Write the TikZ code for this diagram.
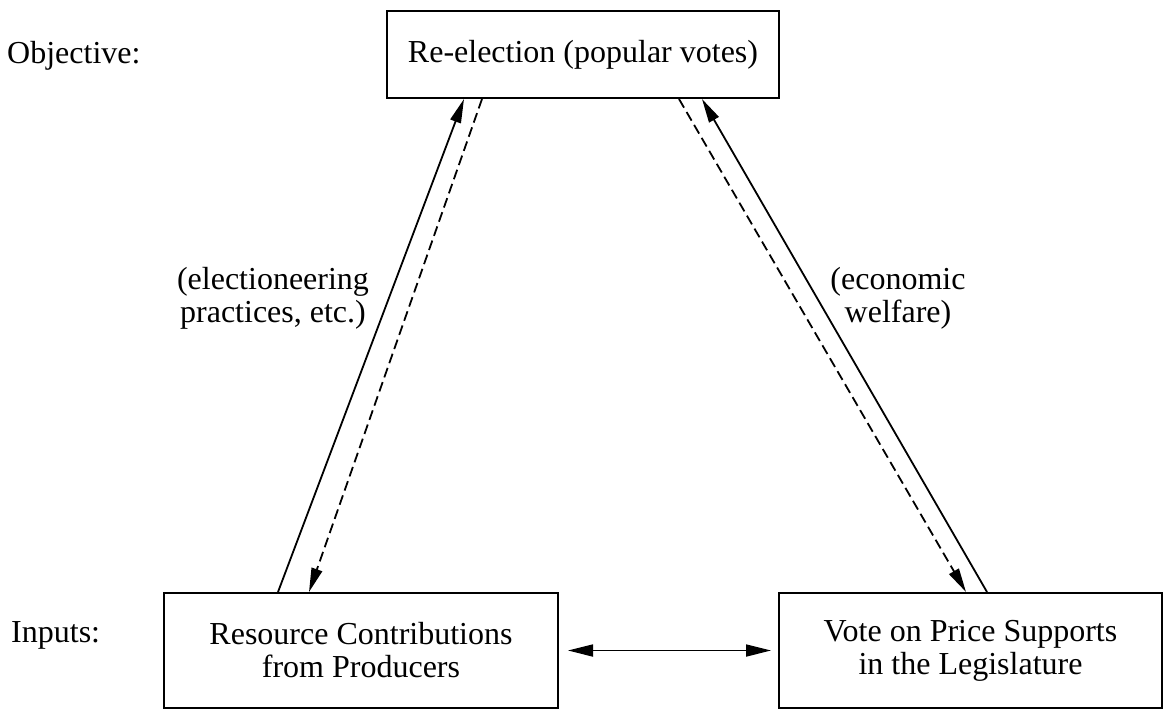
\documentclass[tikz,border=0pt]{standalone}
\usepackage{fontspec}
\setmainfont{Liberation Serif}
\newfontfamily\timesfont{Liberation Serif}
\usetikzlibrary{arrows.meta,calc}
\begin{document}
\begin{tikzpicture}[x=1pt,y=-1pt,
  every node/.style={font=\timesfont\fontsize{32}{33}\selectfont, inner sep=0pt},
  box/.style={draw, line width=2pt, align=center},
  link/.style={line width=1.8pt, -{Triangle[length=24pt,width=11pt]}},
  dlink/.style={link, dash pattern=on 10pt off 5pt},
  both/.style={line width=1.8pt, {Triangle[length=25pt,width=12pt]}-{Triangle[length=25pt,width=12pt]}},
  lbl/.style={align=center}]
\useasboundingbox (0,0) rectangle (1167,710);
\node[box, minimum width=392pt, minimum height=87pt] (top) at (583,54.5) {Re-election (popular votes)};
\node[box, minimum width=394pt, minimum height=115pt] (lb) at (361,650.5) {Resource Contributions\\from Producers};
\node[box, minimum width=383pt, minimum height=115pt] (rb) at (970.5,650.5) {Vote on Price Supports\\in the Legislature};
\node[anchor=base west] (obj) at (7,63) {Objective:};
\node[anchor=base west] (inp) at (11,642) {Inputs:};
\node[lbl] (ll) at (273,298) {(electioneering\\practices, etc.)};
\node[lbl] (rl) at (898,298) {(economic\\welfare)};
\draw[link] ([xshift=115pt]lb.north west) -- ([xshift=78pt]top.south west);
\draw[dlink] ([xshift=96pt]top.south west) -- ([xshift=146pt]lb.north west);
\draw[dlink] ([xshift=293pt]top.south west) -- ([xshift=188pt]rb.north west);
\draw[link] ([xshift=209pt]rb.north west) -- ([xshift=316pt]top.south west);
\draw[both, shorten <=9pt, shorten >=7pt] (lb.east) -- (rb.west);
\end{tikzpicture}
\end{document}
